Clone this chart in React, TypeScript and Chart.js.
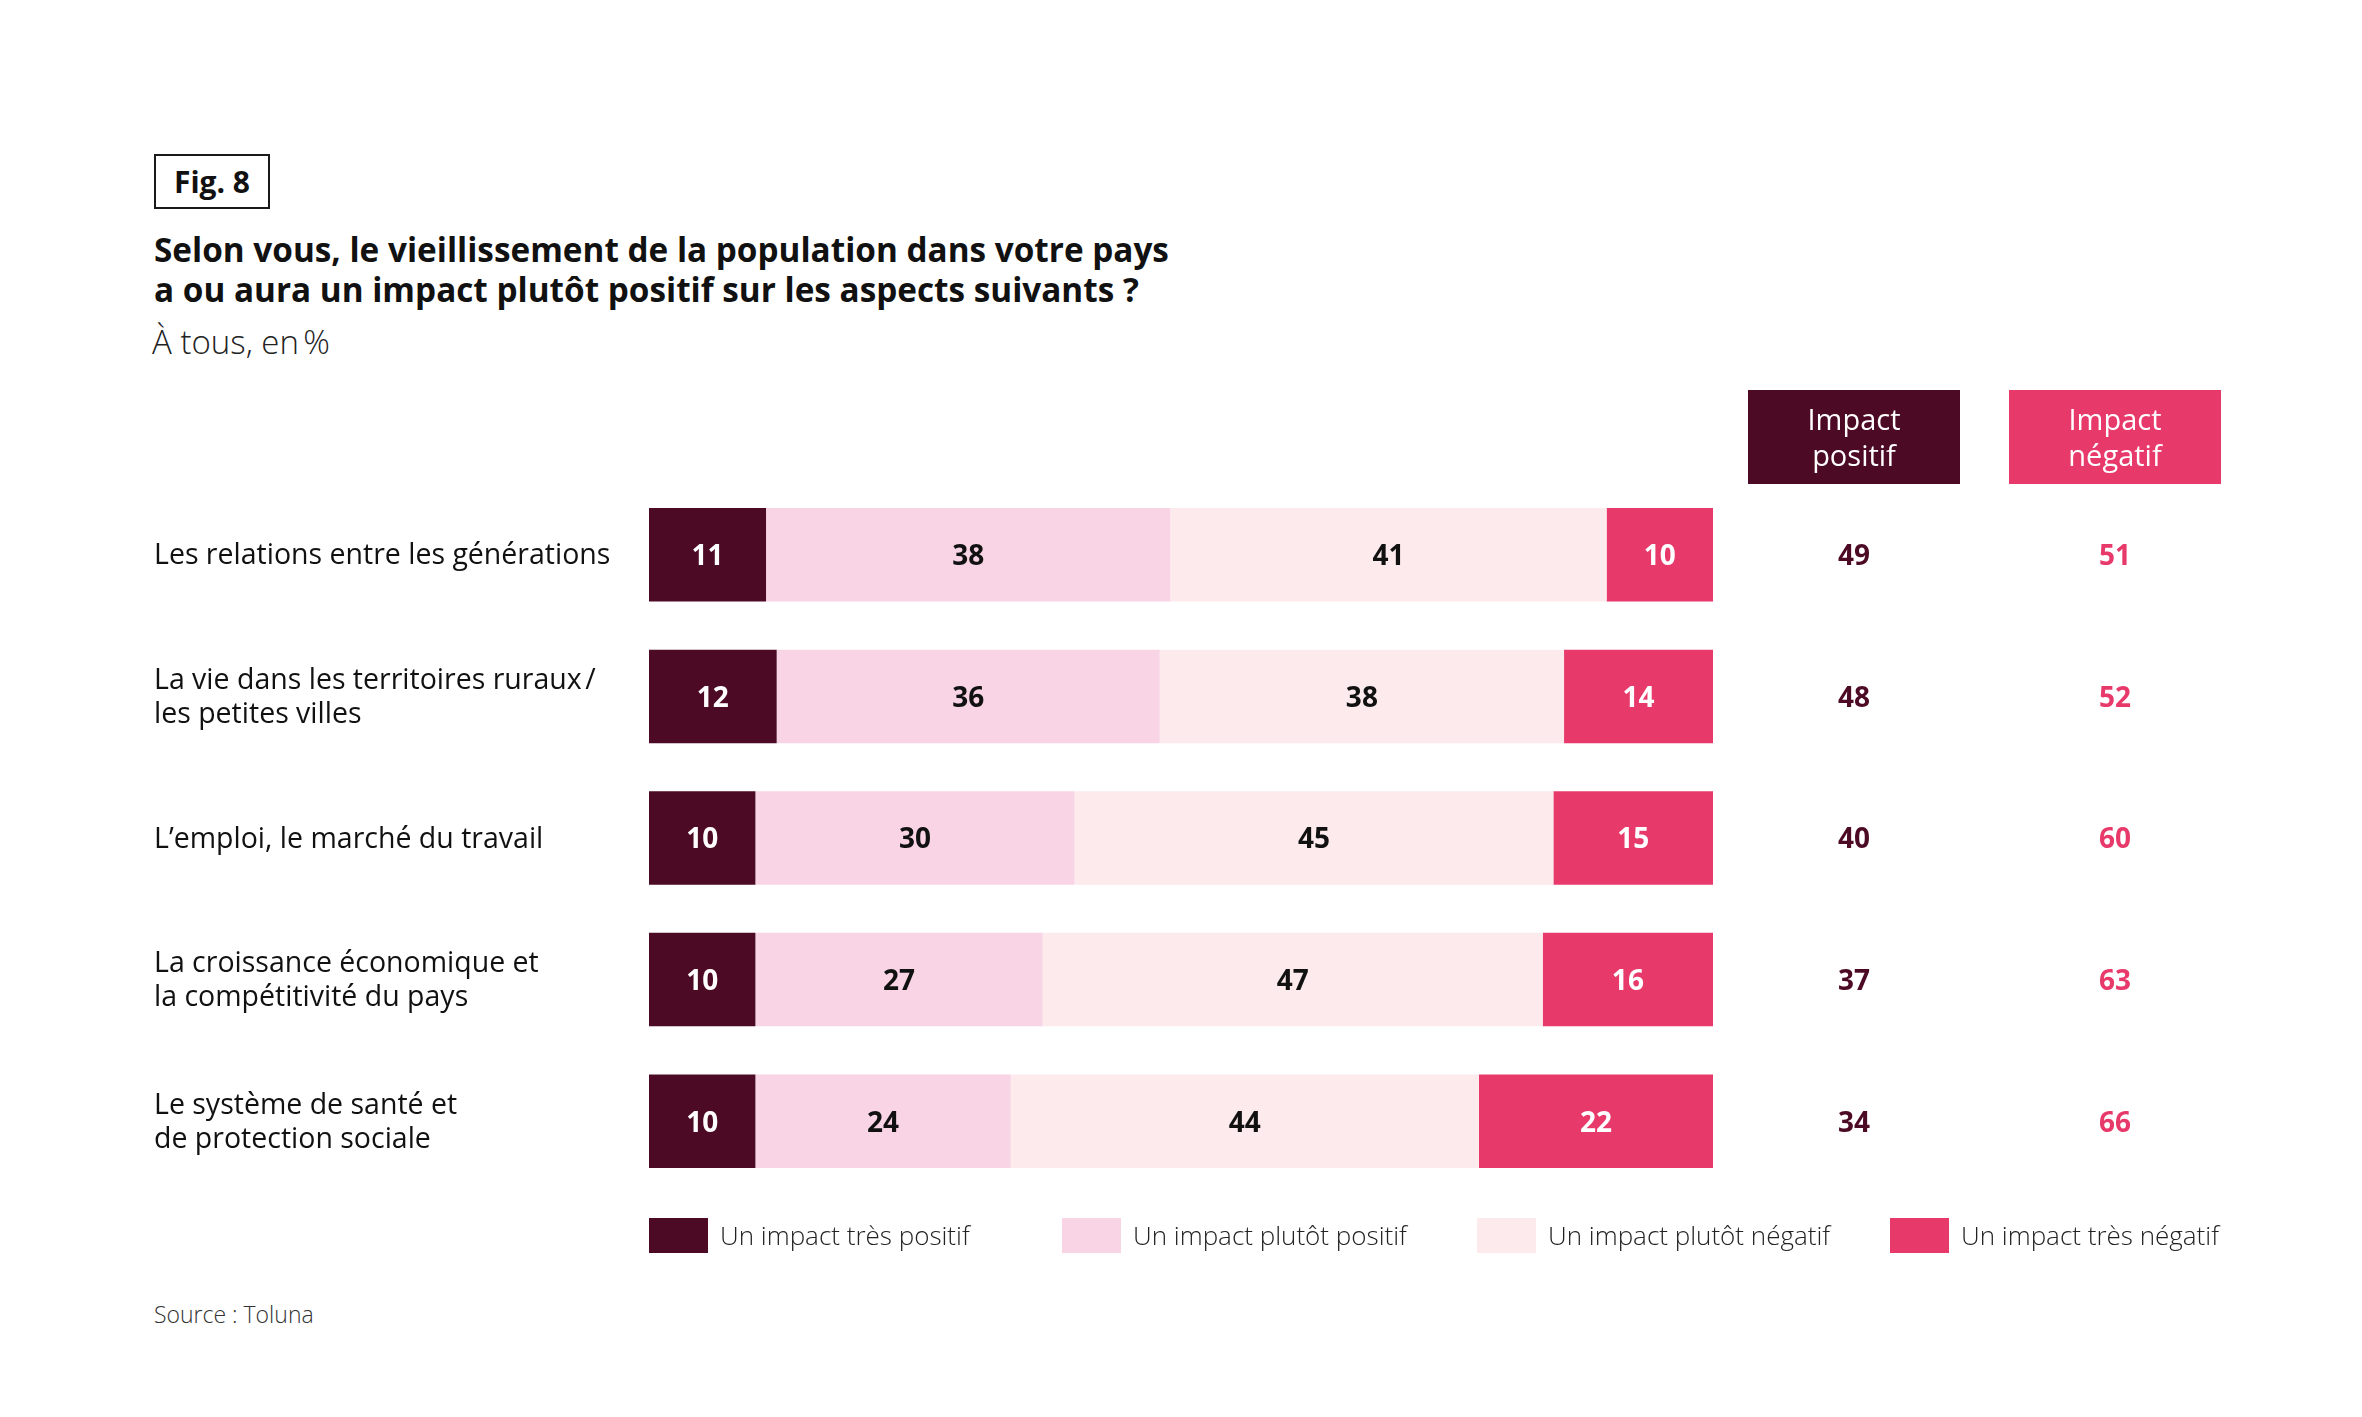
import React, { useEffect, useRef } from "react";
import { Chart, registerables } from "chart.js";

Chart.register(...registerables);

const FONT = "'Open Sans', 'Noto Sans', sans-serif";

const categories: string[][] = [
  ["Les relations entre les générations"],
  ["La vie dans les territoires ruraux\u202F/", "les petites villes"],
  ["L’emploi, le marché du travail"],
  ["La croissance économique et", "la compétitivité du pays"],
  ["Le système de santé et", "de protection sociale"],
];
const seriesLabels = [
  "Un impact très positif",
  "Un impact plutôt positif",
  "Un impact plutôt négatif",
  "Un impact très négatif",
];
const tresPositif = [11, 12, 10, 10, 10];
const plutotPositif = [38, 36, 30, 27, 24];
const plutotNegatif = [41, 38, 45, 47, 44];
const tresNegatif = [10, 14, 15, 16, 22];
const impactPositif = [49, 48, 40, 37, 34];
const impactNegatif = [51, 52, 60, 63, 66];
const columnHeaders = [
  ["Impact", "positif"],
  ["Impact", "négatif"],
];

const DARK = "#4d0a25";
const LIGHT = "#f8d4e5";
const PALE = "#fdeaed";
const PINK = "#e8396b";
const seriesColors = [DARK, LIGHT, PALE, PINK];
const valueColors = ["#ffffff", "#111111", "#111111", "#ffffff"];

const overlayPlugin = {
  id: "overlay",
  afterDatasetsDraw(chart: any) {
    const ctx: CanvasRenderingContext2D = chart.ctx;
    const yScale = chart.scales.y;
    ctx.save();
    ctx.textBaseline = "middle";

    // values in segments
    chart.data.datasets.forEach((ds: any, di: number) => {
      const meta = chart.getDatasetMeta(di);
      meta.data.forEach((el: any, i: number) => {
        const p = el.getProps(["x", "base", "y"], true);
        ctx.fillStyle = valueColors[di];
        ctx.font = `700 28px ${FONT}`;
        ctx.textAlign = "center";
        ctx.fillText(String(ds.data[i]), (p.x + p.base) / 2, p.y + 2.5);
      });
    });

    // category labels
    ctx.fillStyle = "#111111";
    ctx.font = `400 28.5px ${FONT}`;
    ctx.textAlign = "left";
    categories.forEach((lines, i) => {
      const cy = yScale.getPixelForValue(i) + 1.5;
      const lh = 34;
      const start = cy - ((lines.length - 1) * lh) / 2;
      lines.forEach((ln, k) => ctx.fillText(ln, 154, start + k * lh));
    });

    // total columns header boxes
    const colX = [1854, 2115];
    const colColors = [DARK, PINK];
    const totals = [impactPositif, impactNegatif];
    colX.forEach((cx, c) => {
      ctx.fillStyle = colColors[c];
      ctx.fillRect(cx - 106, 390, 212, 94);
      ctx.fillStyle = "#ffffff";
      ctx.font = `400 29px ${FONT}`;
      ctx.textAlign = "center";
      ctx.fillText(columnHeaders[c][0], cx, 422);
      ctx.fillText(columnHeaders[c][1], cx, 458);
      ctx.fillStyle = colColors[c];
      ctx.font = `700 28px ${FONT}`;
      totals[c].forEach((v, i) => {
        ctx.fillText(String(v), cx, yScale.getPixelForValue(i) + 2.5);
      });
    });

    // legend
    const legX = [649, 1062, 1477, 1890];
    chart.data.datasets.forEach((ds: any, di: number) => {
      const x = legX[di];
      ctx.fillStyle = ds.backgroundColor;
      ctx.fillRect(x, 1218, 59, 35);
      ctx.fillStyle = "#222222";
      ctx.font = `300 26px ${FONT}`;
      ctx.textAlign = "left";
      ctx.fillText(ds.label, x + 71, 1238);
    });

    ctx.restore();
  },
};

export default function App() {
  const canvasRef = useRef<HTMLCanvasElement | null>(null);

  useEffect(() => {
    document.body.style.margin = "0";
    document.body.style.background = "#ffffff";
    const canvas = canvasRef.current;
    if (!canvas) return;
    const chart = new Chart(canvas, {
      type: "bar",
      data: {
        labels: categories.map((c) => c.join(" ")),
        datasets: [tresPositif, plutotPositif, plutotNegatif, tresNegatif].map((d, i) => ({
          label: seriesLabels[i],
          data: d,
          backgroundColor: seriesColors[i],
          borderWidth: 0,
          barPercentage: 0.66,
          categoryPercentage: 1,
        })),
      },
      options: {
        indexAxis: "y",
        animation: false,
        responsive: true,
        maintainAspectRatio: false,
        layout: { padding: { left: 649, right: 649, top: 484, bottom: 225 } },
        scales: {
          x: { stacked: true, min: 0, max: 100, display: false },
          y: { stacked: true, display: false },
        },
        plugins: {
          legend: { display: false },
          tooltip: { enabled: false },
        },
      },
      plugins: [overlayPlugin],
    } as any);
    return () => chart.destroy();
  }, []);

  const text: React.CSSProperties = {
    position: "absolute",
    fontFamily: FONT,
    color: "#111111",
    whiteSpace: "nowrap",
    margin: 0,
  };

  return (
    <div style={{ position: "relative", width: 2362, height: 1417, background: "#fff", overflow: "hidden" }}>
      <div
        style={{
          ...text,
          left: 154,
          top: 154,
          width: 112,
          height: 51,
          border: "2px solid #1a1a1a",
          fontWeight: 700,
          fontSize: 30,
          lineHeight: "51px",
          textAlign: "center",
        }}
      >
        Fig. 8
      </div>
      <div style={{ ...text, left: 154, top: 229, fontWeight: 700, fontSize: 33.3, lineHeight: "40px" }}>
        Selon vous, le vieillissement de la population dans votre pays
        <br />a ou aura un impact plutôt positif sur les aspects suivants ?
      </div>
      <div style={{ ...text, left: 152, top: 322, fontWeight: 300, fontSize: 33, lineHeight: "40px", color: "#222" }}>
        À tous, en{"\u202F"}%
      </div>
      <div style={{ ...text, left: 154, top: 1299, fontWeight: 300, fontSize: 23, lineHeight: "30px", color: "#333" }}>
        Source : Toluna
      </div>
      <div style={{ position: "absolute", left: 0, top: 0, width: 2362, height: 1417 }}>
        <canvas ref={canvasRef} />
      </div>
    </div>
  );
}
